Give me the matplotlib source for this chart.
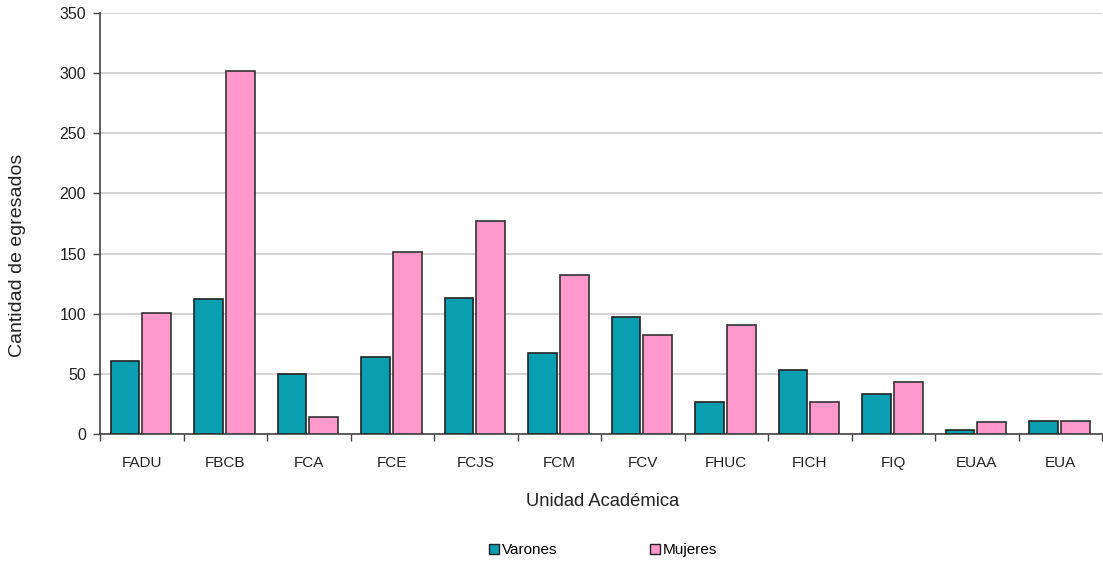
import matplotlib
matplotlib.use("Agg")
import matplotlib.pyplot as plt
import numpy as np
from matplotlib.patches import Patch

categories = ["FADU", "FBCB", "FCA", "FCE", "FCJS", "FCM", "FCV", "FHUC", "FICH", "FIQ", "EUAA", "EUA"]
varones = [61, 112, 50, 64, 113, 67, 97, 27, 53, 33, 3, 11]
mujeres = [101, 302, 14, 151, 177, 132, 82, 91, 27, 43, 10, 11]
yticks = [0, 50, 100, 150, 200, 250, 300, 350]

plt.rcParams['font.family'] = ['Liberation Sans', 'DejaVu Sans']

W, H = 1103, 562
fig = plt.figure(figsize=(W/100, H/100), dpi=100)
ax = fig.add_axes([100/W, (H-434)/H, 1002/W, 421/H])

x = np.arange(len(categories))
teal = "#0A9FB0"
pink = "#FF99CC"
bw = 0.345
ax.bar(x - 0.2, varones, bw, color=teal, edgecolor="#222222", linewidth=1.2, zorder=3)
ax.bar(x + 0.18, mujeres, bw, color=pink, edgecolor="#333333", linewidth=1.2, zorder=3)

ax.set_xlim(-0.5, len(categories) - 0.5)
ax.set_ylim(0, 350)
ax.set_yticks(yticks)
ax.set_yticklabels([str(v) for v in yticks], fontsize=11.5, color="#222222")
ax.yaxis.grid(True, color="#cccccc", linewidth=1.2, zorder=0)
ax.set_axisbelow(True)

ax.set_xticks(np.arange(len(categories) + 1) - 0.5)
ax.set_xticklabels([])
ax.set_xticks(x, minor=True)
ax.set_xticklabels(categories, minor=True, fontsize=11, color="#222222")
ax.tick_params(axis='x', which='major', length=5, width=1, color="#444444", direction='out')
ax.tick_params(axis='x', which='minor', length=0, pad=16)
ax.tick_params(axis='y', length=5, width=1, color="#444444", pad=5)

for s in ['top', 'right']:
    ax.spines[s].set_visible(False)
for s in ['left', 'bottom']:
    ax.spines[s].set_color("#444444")
    ax.spines[s].set_linewidth(1.2)

fig.text(18/W, 1 - 255/H, "Cantidad de egresados", rotation=90, ha='center', va='center', fontsize=14, color="#222222")
fig.text(603/W, 1 - 502/H, "Unidad Académica", ha='center', va='center', fontsize=13.2, color="#222222")

handles = [Patch(facecolor=teal, edgecolor="#222222", linewidth=1.0, label="Varones"),
           Patch(facecolor=pink, edgecolor="#222222", linewidth=1.0, label="Mujeres")]
fig.legend(handles=handles, loc='center', bbox_to_anchor=(603/W, 1 - 550/H), ncol=2,
           frameon=False, fontsize=11, handlelength=0.65, handleheight=0.65,
           handletextpad=0.15, columnspacing=6.1)

fig.savefig("out.png", dpi=100)
